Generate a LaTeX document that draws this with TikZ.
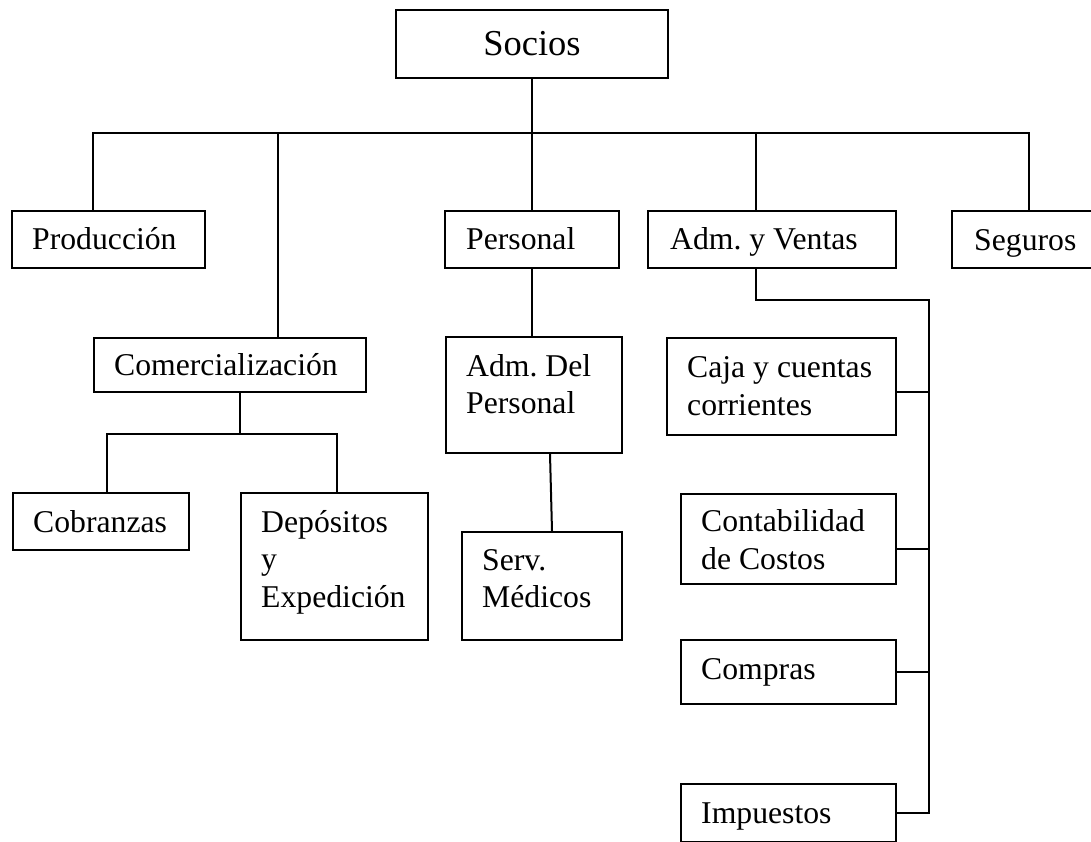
\documentclass[tikz,border=0pt]{standalone}
\usepackage{fontspec}
\setmainfont{Liberation Serif}
\frenchspacing
\begin{document}
\begin{tikzpicture}[x=1pt,y=-1pt,
  unit/.style={draw, line width=2pt, inner sep=0pt, anchor=north west},
  % the base anchor of a multi-line label sits on its last line
  lbl/.style={inner sep=0pt, anchor=base west, align=left,
              font=\fontsize{31.7}{37.5}\selectfont},
  link/.style={line width=2pt, line join=miter}]
  \useasboundingbox[fill=white] (0,0) rectangle (1091,842);

  % top box
  \node[unit, minimum width=272pt, minimum height=68pt,
        font=\fontsize{36.5}{40}\selectfont] (socios) at (395,9) {Socios};

  % first level
  \node[unit, minimum width=193pt, minimum height=57pt] (prod) at (11,210) {};
  \node[unit, minimum width=174pt, minimum height=57pt] (pers) at (444,210) {};
  \node[unit, minimum width=248pt, minimum height=57pt] (adm)  at (647,210) {};
  \node[unit, minimum width=156pt, minimum height=57pt] (seg)  at (951,210) {};
  \node[unit, minimum width=272pt, minimum height=54pt] (comerc) at (93,337) {};

  % second level
  \node[unit, minimum width=176pt, minimum height=116pt] (adp) at (445,336) {};
  \node[unit, minimum width=160pt, minimum height=108pt] (serv) at (461,531) {};
  \node[unit, minimum width=176pt, minimum height=57pt] (cobr) at (12,492) {};
  \node[unit, minimum width=187pt, minimum height=147pt] (dep) at (240,492) {};

  % administration column
  \node[unit, minimum width=229pt, minimum height=97pt] (caja) at (666,337) {};
  \node[unit, minimum width=215pt, minimum height=90pt] (cont) at (680,493) {};
  \node[unit, minimum width=215pt, minimum height=64pt] (comp) at (680,639) {};
  \node[unit, minimum width=215pt, minimum height=58pt] (imp) at (680,783) {};

  % box texts
  \node[lbl] (tprod) at ([shift={(21,40)}]prod.north west) {Producción};
  \node[lbl] (tpers) at ([shift={(22,40)}]pers.north west) {Personal};
  \node[lbl] (tadm)  at ([shift={(23,40)}]adm.north west) {Adm. y Ventas};
  \node[lbl] (tseg)  at ([shift={(23,41)}]seg.north west) {Seguros};
  \node[lbl] (tcomerc) at ([shift={(21,38.5)}]comerc.north west) {Comercialización};
  \node[lbl] (tadp)  at ([shift={(21,77.5)}]adp.north west) {Adm. Del\\Personal};
  \node[lbl] (tserv) at ([shift={(21,76.5)}]serv.north west) {Serv.\\Médicos};
  \node[lbl] (tcobr) at ([shift={(21,40)}]cobr.north west) {Cobranzas};
  \node[lbl] (tdep)  at ([shift={(21,115)}]dep.north west) {Depósitos\\y\\Expedición};
  \node[lbl] (tcaja) at ([shift={(21,78)}]caja.north west) {Caja y cuentas\\corrientes};
  \node[lbl] (tcont) at ([shift={(21,76)}]cont.north west) {Contabilidad\\de Costos};
  \node[lbl] (tcomp) at ([shift={(21,40.5)}]comp.north west) {Compras};
  \node[lbl] (timp)  at ([shift={(21,40)}]imp.north west) {Impuestos};

  % main bus under the top box
  \coordinate (busL) at (93,133);
  \coordinate (busR) at (1029,133);
  \coordinate (dCom) at (278,133);
  \coordinate (dAdm) at (756,133);
  \draw[link] (socios.south) -- (socios.south |- busL);
  \draw[link] (busL |- prod.north) -- (busL) -- (busR) -- (busR |- seg.north);
  \draw[link] (dCom) -- (dCom |- comerc.north);
  \draw[link] (pers.north) -- (pers.north |- busL);
  \draw[link] (dAdm) -- (dAdm |- adm.north);

  % commercial branch
  \coordinate (cJ) at (240,434);
  \coordinate (cL) at (107,434);
  \coordinate (cR) at (337,434);
  \draw[link] (cJ |- comerc.south) -- (cJ);
  \draw[link] (cL |- cobr.north) -- (cL) -- (cR) -- (cR |- dep.north);

  % personnel branch
  \draw[link] (pers.south) -- (pers.south |- adp.north);
  \draw[link] ([xshift=16pt]adp.south) -- ([xshift=10pt]serv.north);

  % administration branch
  \coordinate (bT) at (929,300);
  \coordinate (k1) at (929,392);
  \coordinate (k2) at (929,549);
  \coordinate (k3) at (929,672);
  \coordinate (k4) at (929,813);
  \draw[link] (dAdm |- adm.south) |- (bT) -- (k4) -- (k4 -| imp.east);
  \draw[link] (k1) -- (k1 -| caja.east);
  \draw[link] (k2) -- (k2 -| cont.east);
  \draw[link] (k3) -- (k3 -| comp.east);
\end{tikzpicture}
\end{document}
